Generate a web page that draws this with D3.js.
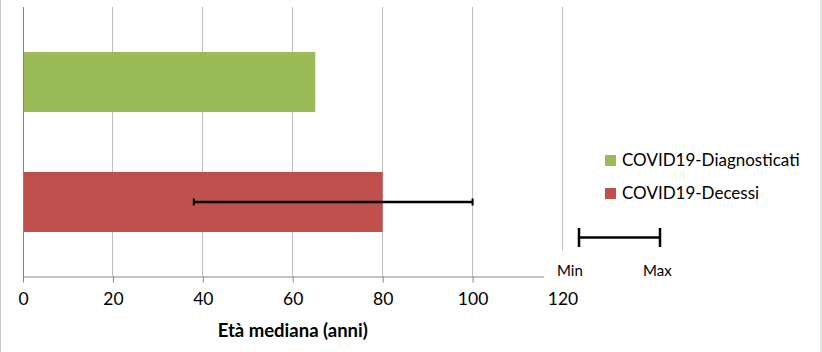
<!DOCTYPE html>
<html>
<head>
<meta charset="utf-8">
<script src="https://cdn.jsdelivr.net/npm/d3@7"></script>
<style>
  body { margin: 0; background: #fff; }
  svg { display: block; font-family: Lato, "Open Sans", sans-serif; }
</style>
</head>
<body>
<svg id="chart"></svg>
<script>
// data
const categories = ['COVID19-Diagnosticati', 'COVID19-Decessi'];
const medianAge = [65, 80];
const ageMin = [null, 38];
const ageMax = [null, 100];
const colors = ['#9BBB59', '#C0504D'];
const xTicks = [0, 20, 40, 60, 80, 100, 120];

const width = 822, height = 352;
const svg = d3.select('#chart').attr('width', width).attr('height', height);

// chart area border
svg.append('rect')
    .attr('x', 0.5).attr('y', -2)
    .attr('width', width - 1.5).attr('height', height + 4)
    .attr('fill', 'none')
    .attr('stroke', '#C8C8C8');

const plotTop = 7, plotBottom = 276;

const x = d3.scaleLinear().domain([0, 120]).range([23, 562.5]);
const y = d3.scaleBand().domain(categories).range([22, 262])
    .paddingInner(0.5).paddingOuter(0.25);

// gridlines
svg.append('g')
    .selectAll('line')
    .data(xTicks.slice(1))
    .join('line')
    .attr('x1', d => Math.floor(x(d)) + 0.5)
    .attr('x2', d => Math.floor(x(d)) + 0.5)
    .attr('y1', plotTop)
    .attr('y2', plotBottom)
    .attr('stroke', '#BEBEBE');

// bars
svg.append('g')
    .selectAll('rect')
    .data(categories)
    .join('rect')
    .attr('x', x(0))
    .attr('y', d => y(d))
    .attr('width', (d, i) => x(medianAge[i]) - x(0))
    .attr('height', y.bandwidth())
    .attr('fill', (d, i) => colors[i]);

// error bars (min - max)
const errG = svg.append('g').attr('stroke', '#000').attr('stroke-width', 2.5);
categories.forEach((c, i) => {
  if (ageMin[i] == null) return;
  const cy = y(c) + y.bandwidth() / 2;
  errG.append('line')
      .attr('x1', x(ageMin[i])).attr('x2', x(ageMax[i]))
      .attr('y1', cy).attr('y2', cy);
  [ageMin[i], ageMax[i]].forEach(v => {
    errG.append('line')
        .attr('x1', x(v)).attr('x2', x(v))
        .attr('y1', cy - 3.5).attr('y2', cy + 3.5)
        .attr('stroke-width', 2);
  });
});

// x axis
const xAxis = d3.axisBottom(x)
    .tickValues(xTicks)
    .tickSize(6)
    .tickSizeOuter(0)
    .tickPadding(10);

const xAxisG = svg.append('g')
    .attr('transform', `translate(0,${plotBottom + 0.5})`)
    .call(xAxis);
xAxisG.select('.domain').attr('stroke', '#868686');
xAxisG.selectAll('.tick line').attr('stroke', '#868686');
xAxisG.selectAll('.tick text')
    .attr('fill', '#000')
    .style('font-size', '17.5px')
    .style('font-family', 'Lato, sans-serif');

// y axis line
svg.append('line')
    .attr('x1', 23.5).attr('x2', 23.5)
    .attr('y1', plotTop).attr('y2', plotBottom + 6)
    .attr('stroke', '#868686');

svg.append('text')
    .attr('x', x(60))
    .attr('y', 337)
    .attr('text-anchor', 'middle')
    .style('font-size', '18.5px')
    .style('font-weight', 'bold')
    .text('Età mediana (anni)');

// min/max legend box (white background over the plot corner)
const mm = svg.append('g');
mm.append('rect')
    .attr('x', 544).attr('y', 250)
    .attr('width', 150).attr('height', 38)
    .attr('fill', '#fff');
mm.append('line')
    .attr('x1', 579).attr('x2', 660)
    .attr('y1', 237.5).attr('y2', 237.5)
    .attr('stroke', '#000').attr('stroke-width', 2.5);
[579, 660].forEach(px => {
  mm.append('line')
      .attr('x1', px).attr('x2', px)
      .attr('y1', 228).attr('y2', 247)
      .attr('stroke', '#000').attr('stroke-width', 2.5);
});
mm.append('text').attr('x', 557).attr('y', 276).style('font-size', '15px').text('Min');
mm.append('text').attr('x', 643).attr('y', 276).style('font-size', '15px').text('Max');

// legend
const legend = svg.append('g')
    .selectAll('g')
    .data(categories)
    .join('g')
    .attr('transform', (d, i) => `translate(605,${155 + i * 33})`);
legend.append('rect')
    .attr('width', 11).attr('height', 11)
    .attr('fill', (d, i) => colors[i]);
legend.append('text')
    .attr('x', 17)
    .attr('y', 11)
    .style('font-size', '17px')
    .text(d => d);
</script>
</body>
</html>
